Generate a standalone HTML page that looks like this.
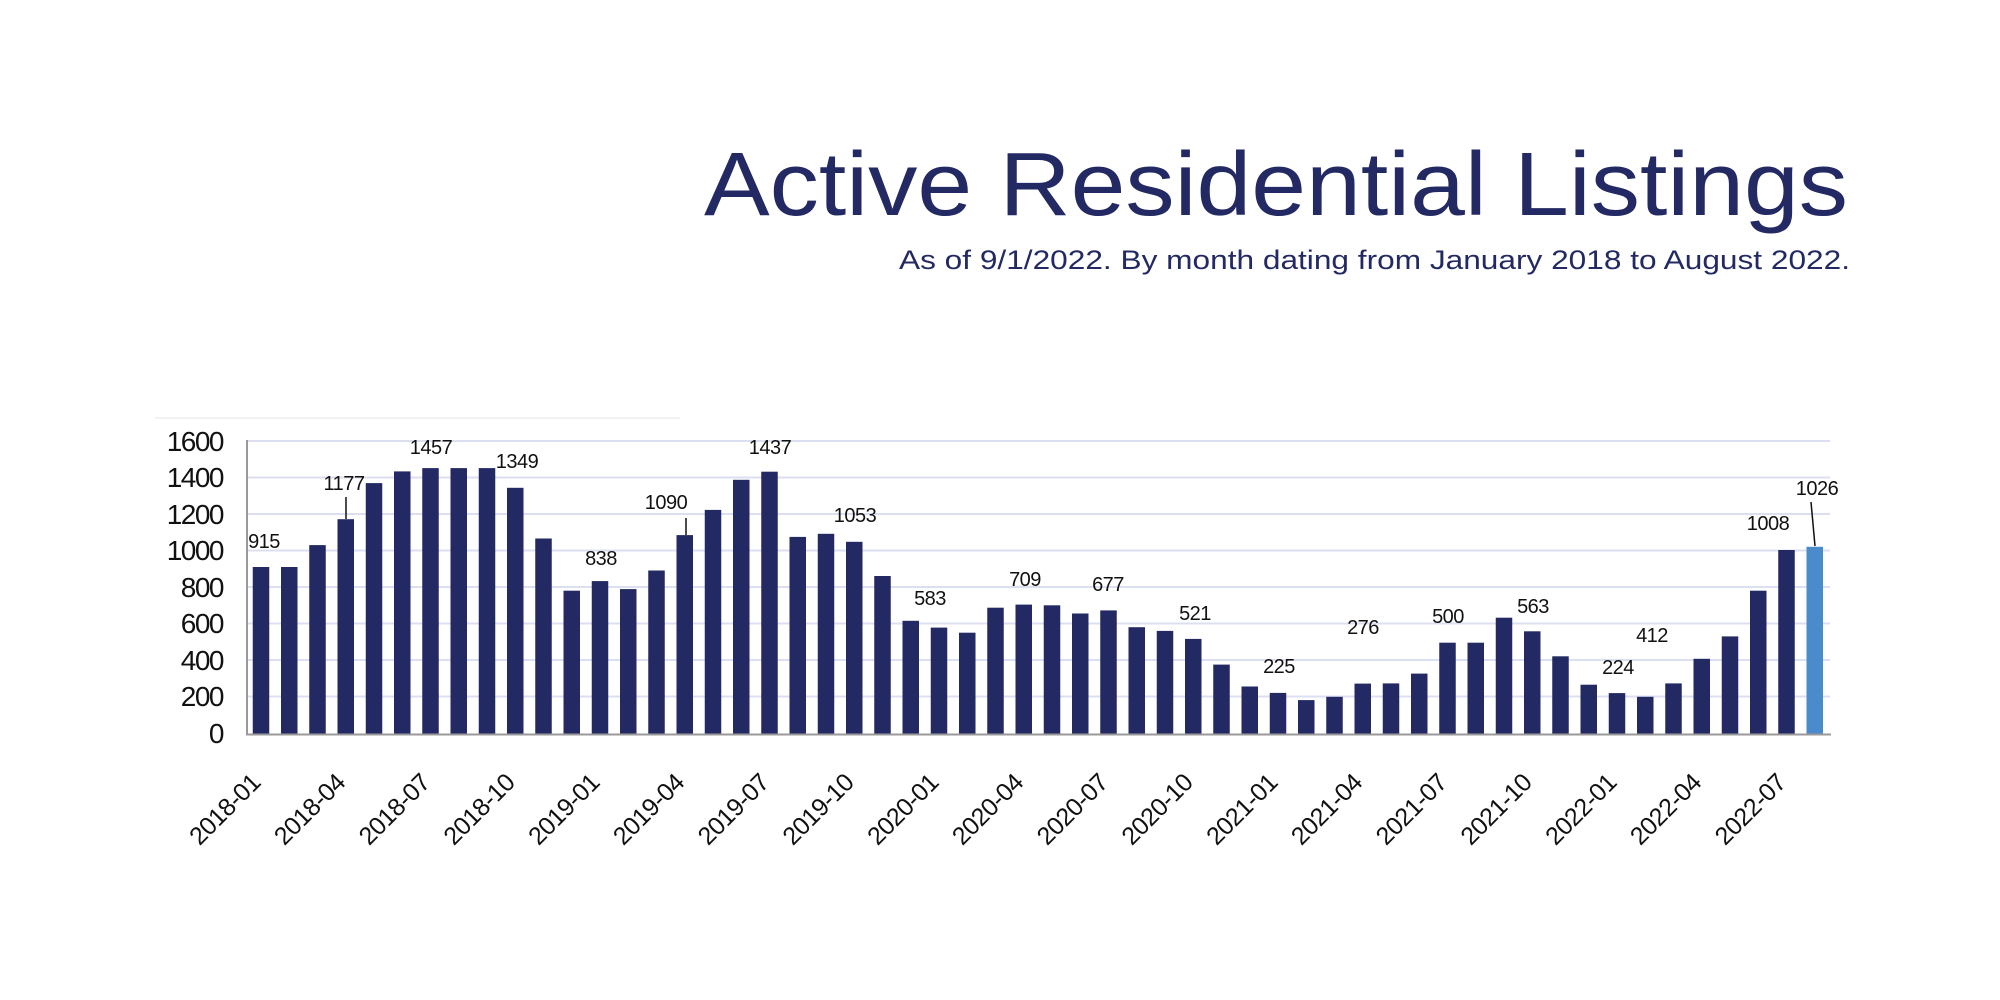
<!DOCTYPE html>
<html><head><meta charset="utf-8"><style>
html,body{margin:0;padding:0;background:#fff;}
svg{display:block;}
text{font-family:"Liberation Sans",Arial,sans-serif;}
</style></head><body>
<svg width="2000" height="1000" viewBox="0 0 2000 1000" xmlns="http://www.w3.org/2000/svg">
<rect width="2000" height="1000" fill="#fff"/>
<text x="704" y="215" font-size="90" fill="#232a63" textLength="1144" lengthAdjust="spacingAndGlyphs">Active Residential Listings</text>
<text x="899" y="269" font-size="27" fill="#232a63" textLength="951" lengthAdjust="spacingAndGlyphs">As of 9/1/2022. By month dating from January 2018 to August 2022.</text>
<line x1="155" y1="418" x2="680" y2="418" stroke="#eeeeee" stroke-width="1.5"/>
<g stroke="#dcdff0" stroke-width="2">
<line x1="247" y1="441" x2="1830" y2="441"/>
<line x1="247" y1="477.5" x2="1830" y2="477.5"/>
<line x1="247" y1="514" x2="1830" y2="514"/>
<line x1="247" y1="550.5" x2="1830" y2="550.5"/>
<line x1="247" y1="587" x2="1830" y2="587"/>
<line x1="247" y1="623.5" x2="1830" y2="623.5"/>
<line x1="247" y1="660" x2="1830" y2="660"/>
<line x1="247" y1="696.5" x2="1830" y2="696.5"/>
</g>
<g font-size="28" fill="#111" text-anchor="end" letter-spacing="-1.5">
<text x="223" y="451">1600</text>
<text x="223" y="487">1400</text>
<text x="223" y="524">1200</text>
<text x="223" y="560">1000</text>
<text x="223" y="597">800</text>
<text x="223" y="633">600</text>
<text x="223" y="670">400</text>
<text x="223" y="706">200</text>
<text x="223" y="743">0</text>
</g>
<g fill="#232a63">
<rect x="252.75" y="567" width="16.5" height="167"/>
<rect x="281" y="567" width="16.5" height="167"/>
<rect x="309.25" y="545.1" width="16.5" height="188.9"/>
<rect x="337.5" y="519.2" width="16.5" height="214.8"/>
<rect x="365.75" y="483.1" width="16.5" height="250.9"/>
<rect x="394" y="471.4" width="16.5" height="262.6"/>
<rect x="422.25" y="468.1" width="16.5" height="265.9"/>
<rect x="450.5" y="468.1" width="16.5" height="265.9"/>
<rect x="478.75" y="468.1" width="16.5" height="265.9"/>
<rect x="507" y="487.8" width="16.5" height="246.2"/>
<rect x="535.25" y="538.5" width="16.5" height="195.5"/>
<rect x="563.5" y="590.7" width="16.5" height="143.3"/>
<rect x="591.75" y="581.1" width="16.5" height="152.9"/>
<rect x="620" y="589.1" width="16.5" height="144.9"/>
<rect x="648.25" y="570.5" width="16.5" height="163.5"/>
<rect x="676.5" y="535.1" width="16.5" height="198.9"/>
<rect x="704.75" y="509.9" width="16.5" height="224.1"/>
<rect x="733" y="479.8" width="16.5" height="254.2"/>
<rect x="761.25" y="471.7" width="16.5" height="262.3"/>
<rect x="789.5" y="536.9" width="16.5" height="197.1"/>
<rect x="817.75" y="533.8" width="16.5" height="200.2"/>
<rect x="846" y="541.8" width="16.5" height="192.2"/>
<rect x="874.25" y="576" width="16.5" height="158"/>
<rect x="902.5" y="620.8" width="16.5" height="113.2"/>
<rect x="930.75" y="627.6" width="16.5" height="106.4"/>
<rect x="959" y="632.7" width="16.5" height="101.3"/>
<rect x="987.25" y="607.7" width="16.5" height="126.3"/>
<rect x="1015.5" y="604.6" width="16.5" height="129.4"/>
<rect x="1043.75" y="605.3" width="16.5" height="128.7"/>
<rect x="1072" y="613.5" width="16.5" height="120.5"/>
<rect x="1100.25" y="610.4" width="16.5" height="123.6"/>
<rect x="1128.5" y="627.2" width="16.5" height="106.8"/>
<rect x="1156.75" y="630.9" width="16.5" height="103.1"/>
<rect x="1185" y="638.9" width="16.5" height="95.1"/>
<rect x="1213.25" y="664.6" width="16.5" height="69.4"/>
<rect x="1241.5" y="686.5" width="16.5" height="47.5"/>
<rect x="1269.75" y="692.9" width="16.5" height="41.1"/>
<rect x="1298" y="700.1" width="16.5" height="33.9"/>
<rect x="1326.25" y="696.8" width="16.5" height="37.2"/>
<rect x="1354.5" y="683.6" width="16.5" height="50.4"/>
<rect x="1382.75" y="683.4" width="16.5" height="50.6"/>
<rect x="1411" y="673.6" width="16.5" height="60.4"/>
<rect x="1439.25" y="642.7" width="16.5" height="91.3"/>
<rect x="1467.5" y="642.7" width="16.5" height="91.3"/>
<rect x="1495.75" y="617.7" width="16.5" height="116.3"/>
<rect x="1524" y="631.3" width="16.5" height="102.7"/>
<rect x="1552.25" y="656.3" width="16.5" height="77.7"/>
<rect x="1580.5" y="684.7" width="16.5" height="49.3"/>
<rect x="1608.75" y="693.1" width="16.5" height="40.9"/>
<rect x="1637" y="696.8" width="16.5" height="37.2"/>
<rect x="1665.25" y="683.4" width="16.5" height="50.6"/>
<rect x="1693.5" y="658.8" width="16.5" height="75.2"/>
<rect x="1721.75" y="636.4" width="16.5" height="97.6"/>
<rect x="1750" y="590.7" width="16.5" height="143.3"/>
<rect x="1778.25" y="550" width="16.5" height="184"/>
</g>
<rect x="1806.5" y="546.8" width="16.5" height="187.2" fill="#4a8ccb"/>
<line x1="247" y1="440" x2="247" y2="735" stroke="#999" stroke-width="2"/>
<line x1="246" y1="734.5" x2="1831" y2="734.5" stroke="#999" stroke-width="2"/>
<g stroke="#111" stroke-width="1.5">
<line x1="346" y1="497" x2="346" y2="519"/>
<line x1="686" y1="518" x2="686" y2="535"/>
<line x1="1811" y1="502" x2="1815" y2="546"/>
</g>
<g font-size="20" fill="#111" text-anchor="middle" letter-spacing="-0.5">
<text x="264" y="548">915</text>
<text x="344" y="490">1177</text>
<text x="431" y="454">1457</text>
<text x="517" y="468">1349</text>
<text x="601" y="565">838</text>
<text x="666" y="509">1090</text>
<text x="770" y="454">1437</text>
<text x="855" y="522">1053</text>
<text x="930" y="605">583</text>
<text x="1025" y="586">709</text>
<text x="1108" y="591">677</text>
<text x="1195" y="620">521</text>
<text x="1279" y="673">225</text>
<text x="1363" y="634">276</text>
<text x="1448" y="623">500</text>
<text x="1533" y="613">563</text>
<text x="1618" y="674">224</text>
<text x="1652" y="642">412</text>
<text x="1768" y="530">1008</text>
<text x="1817" y="495">1026</text>
</g>
<g font-size="25" fill="#111" text-anchor="end" letter-spacing="-0.5">
<text transform="translate(262,784) rotate(-45)">2018-01</text>
<text transform="translate(346.75,784) rotate(-45)">2018-04</text>
<text transform="translate(431.5,784) rotate(-45)">2018-07</text>
<text transform="translate(516.25,784) rotate(-45)">2018-10</text>
<text transform="translate(601,784) rotate(-45)">2019-01</text>
<text transform="translate(685.75,784) rotate(-45)">2019-04</text>
<text transform="translate(770.5,784) rotate(-45)">2019-07</text>
<text transform="translate(855.25,784) rotate(-45)">2019-10</text>
<text transform="translate(940,784) rotate(-45)">2020-01</text>
<text transform="translate(1024.75,784) rotate(-45)">2020-04</text>
<text transform="translate(1109.5,784) rotate(-45)">2020-07</text>
<text transform="translate(1194.25,784) rotate(-45)">2020-10</text>
<text transform="translate(1279,784) rotate(-45)">2021-01</text>
<text transform="translate(1363.75,784) rotate(-45)">2021-04</text>
<text transform="translate(1448.5,784) rotate(-45)">2021-07</text>
<text transform="translate(1533.25,784) rotate(-45)">2021-10</text>
<text transform="translate(1618,784) rotate(-45)">2022-01</text>
<text transform="translate(1702.75,784) rotate(-45)">2022-04</text>
<text transform="translate(1787.5,784) rotate(-45)">2022-07</text>
</g>
</svg>
</body></html>
